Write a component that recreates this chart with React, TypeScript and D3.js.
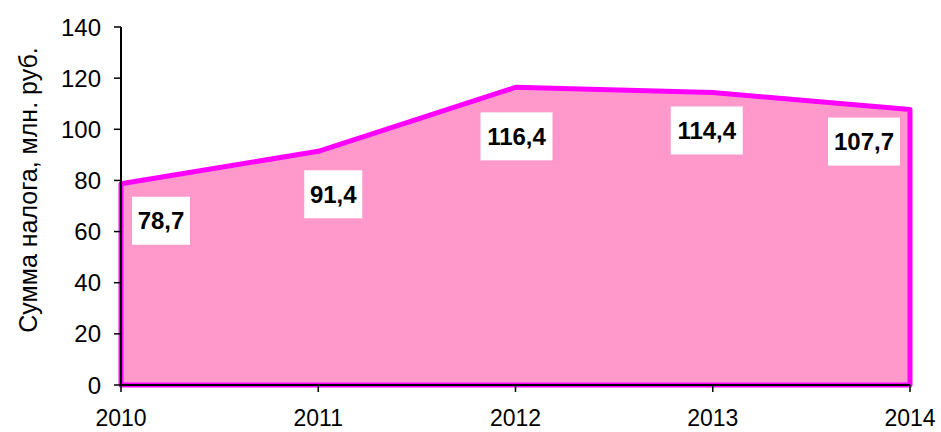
import * as d3 from "d3";

const years = [2010, 2011, 2012, 2013, 2014];
const values = [78.7, 91.4, 116.4, 114.4, 107.7];
const labels = ["78,7", "91,4", "116,4", "114,4", "107,7"];
const yTicks = [0, 20, 40, 60, 80, 100, 120, 140];

// label box offsets from the data point (Excel-style placement)
const labelOffsets = [
  [40, 37],
  [15, 43],
  [1, 49],
  [-6, 38],
  [-46, 32],
];

export default function App() {
  const width = 941;
  const height = 432;
  const x = d3.scaleLinear().domain([2010, 2014]).range([121, 910]);
  const y = d3.scaleLinear().domain([0, 140]).range([385, 27]);

  const pts: [number, number][] = years.map((yr, i) => [x(yr), y(values[i])]);
  const poly = [[x(2010), y(0)], ...pts, [x(2014), y(0)]] as [number, number][];
  const path = d3.line()(poly) + "Z";

  const font = "Arial, 'Liberation Sans', sans-serif";

  return (
    <svg
      width={width}
      height={height}
      style={{ position: "absolute", left: 0, top: 0, background: "#fff" }}
    >
      <path d={path} fill="#FF99CC" stroke="#FF00FF" strokeWidth={5} strokeLinejoin="round" />

      {/* y axis */}
      <line x1={x(2010)} x2={x(2010)} y1={y(140)} y2={y(0)} stroke="#000" strokeWidth={2} />
      {yTicks.map((t) => (
        <g key={t}>
          <line x1={x(2010) - 7} x2={x(2010)} y1={y(t)} y2={y(t)} stroke="#000" strokeWidth={1.5} />
          <text
            x={101}
            y={y(t)}
            textAnchor="end"
            dominantBaseline="central"
            fontFamily={font}
            fontSize={24}
          >
            {t}
          </text>
        </g>
      ))}

      {/* x axis */}
      <line x1={x(2010)} x2={x(2014)} y1={y(0)} y2={y(0)} stroke="#000" strokeWidth={2} />
      {years.map((yr) => (
        <g key={yr}>
          <line x1={x(yr)} x2={x(yr)} y1={y(0)} y2={y(0) + 7} stroke="#000" strokeWidth={1.5} />
          <text x={x(yr)} y={426} textAnchor="middle" fontFamily={font} fontSize={23}>
            {yr}
          </text>
        </g>
      ))}

      <text
        transform={`translate(37,190) rotate(-90)`}
        textAnchor="middle"
        fontFamily={font}
        fontSize={25}
      >
        Сумма налога, млн. руб.
      </text>

      {/* data labels */}
      {pts.map(([px, py], i) => {
        const cx = px + labelOffsets[i][0];
        const cy = py + labelOffsets[i][1];
        const w = labels[i].length > 4 ? 72 : 58;
        return (
          <g key={i}>
            <rect x={cx - w / 2} y={cy - 24} width={w} height={48} fill="#fff" />
            <text
              x={cx}
              y={cy}
              textAnchor="middle"
              dominantBaseline="central"
              fontFamily={font}
              fontSize={24}
              fontWeight="bold"
            >
              {labels[i]}
            </text>
          </g>
        );
      })}
    </svg>
  );
}
